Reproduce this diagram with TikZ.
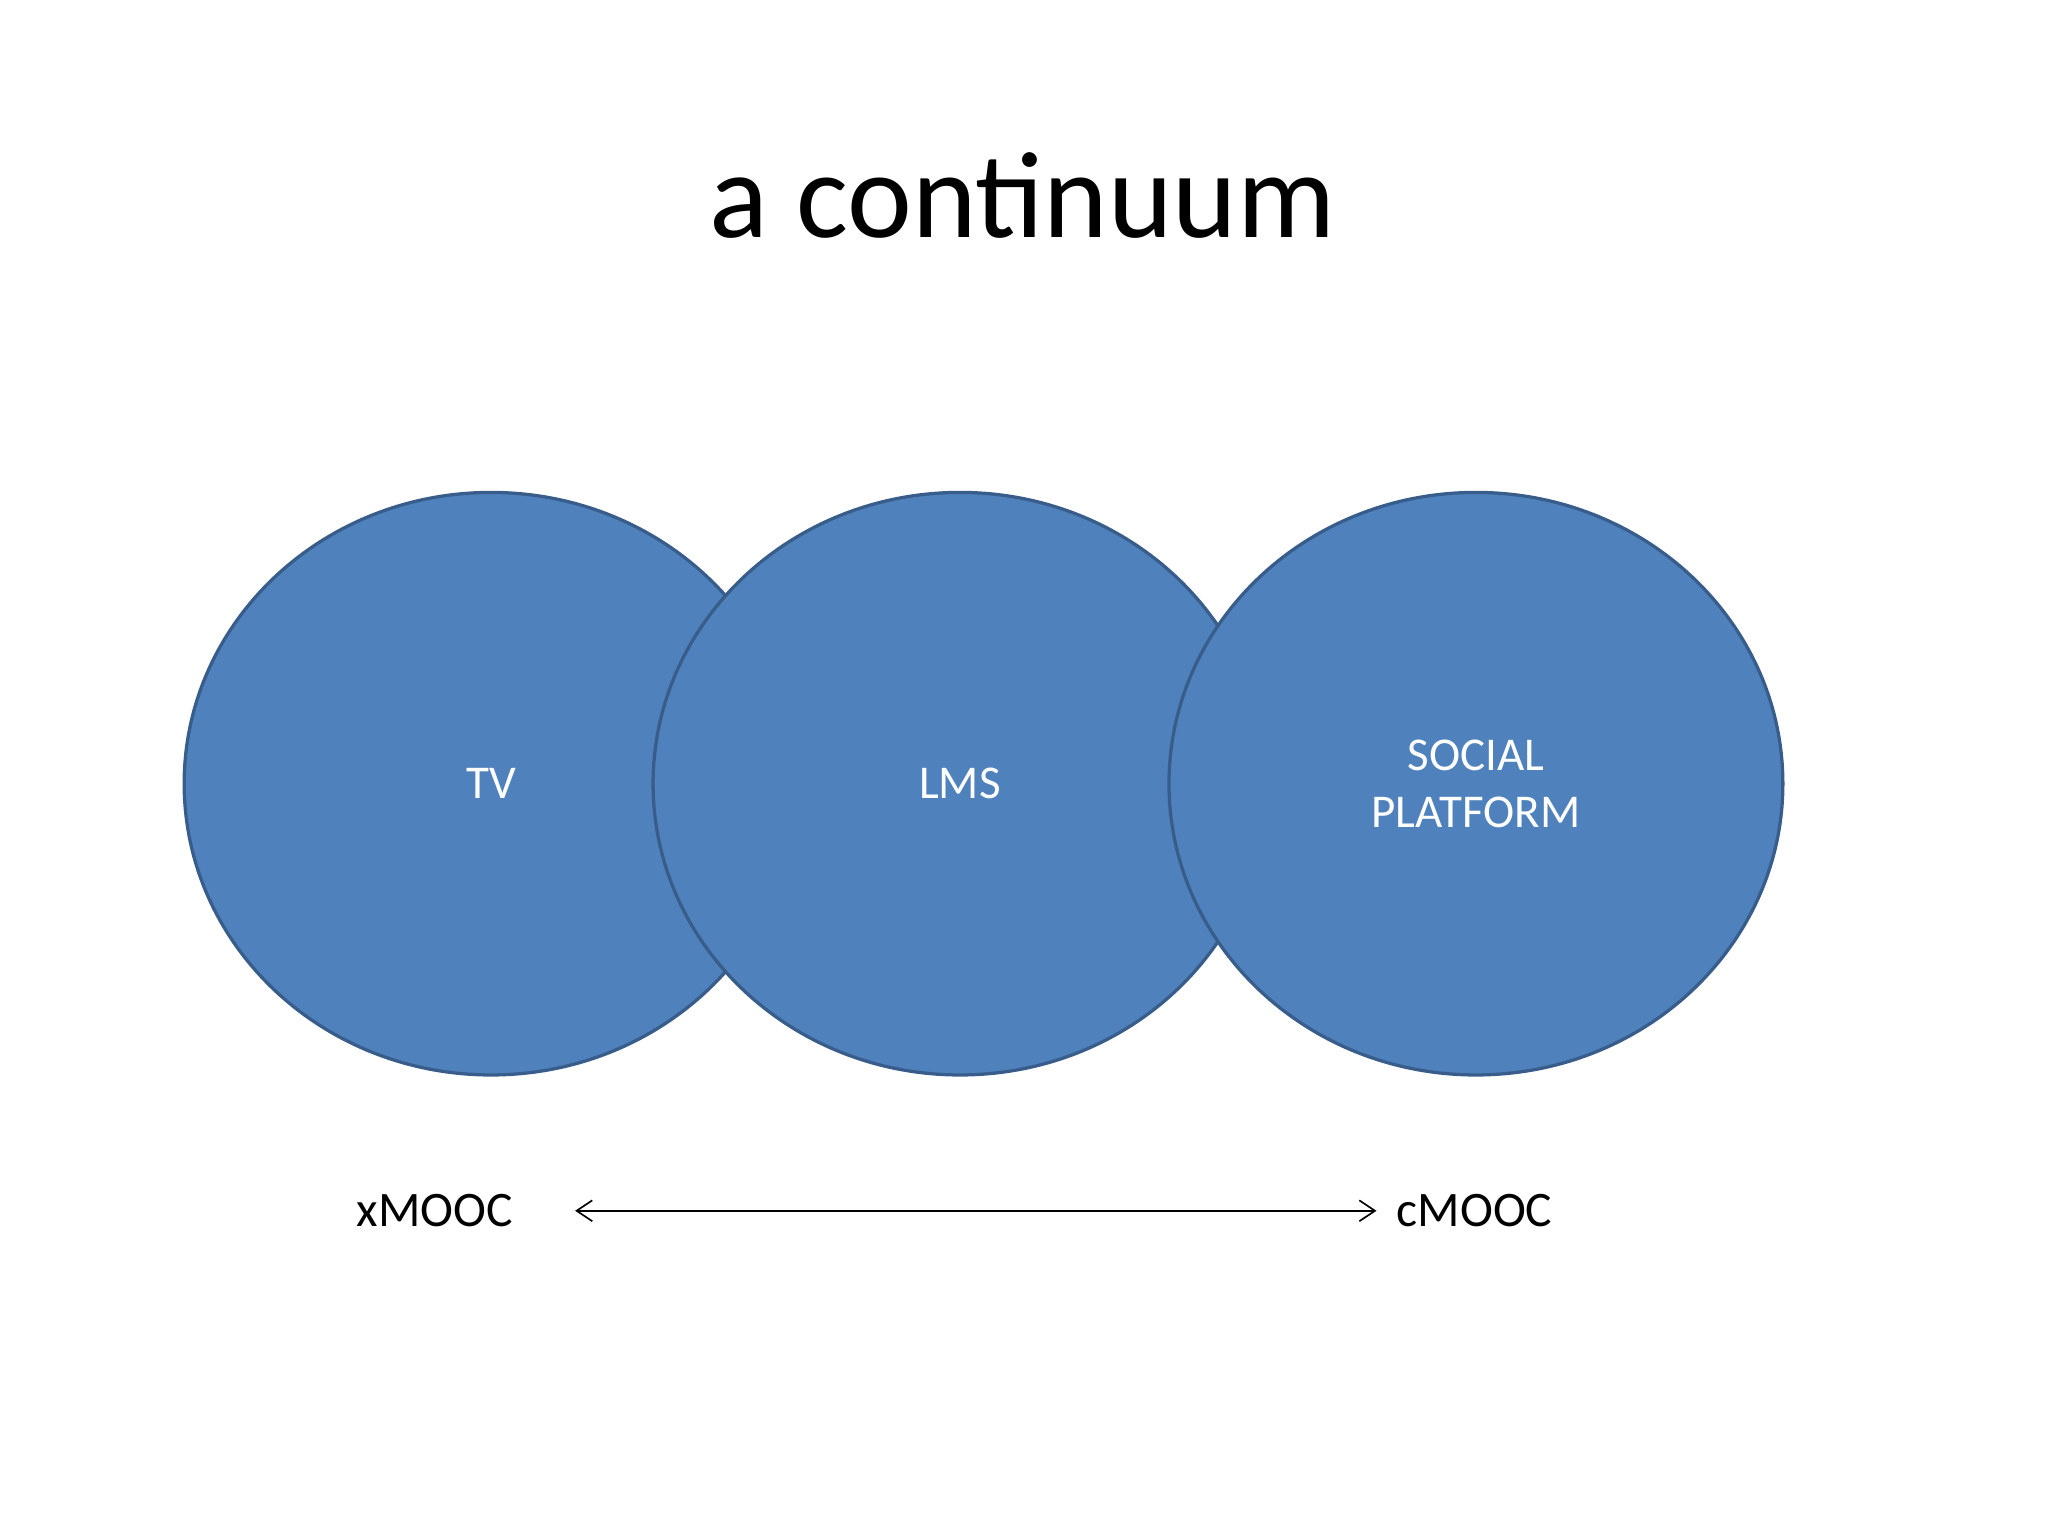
\documentclass[tikz,border=0pt]{standalone}
\usepackage{fontspec}
\setmainfont{Carlito}
\usetikzlibrary{shapes.geometric,arrows.meta}
\definecolor{blfill}{HTML}{4F81BD}
\definecolor{bldraw}{HTML}{385D8A}
\begin{document}
\begin{tikzpicture}[x=1pt,y=-1pt,
  blob/.style={ellipse,draw=bldraw,line width=2.5pt,fill=blfill,minimum width=470pt,minimum height=446pt,text=white,font=\fontsize{36}{44}\selectfont,align=center},
  lab/.style={font=\fontsize{38}{44}\selectfont}]
\useasboundingbox (0,0) rectangle (1568,1176);
\node[font=\fontsize{94}{100}\selectfont] (title) at (783,150) {a continuum};
\node[blob] (tv) at (376,600) {TV};
\node[blob] (lms) at (735,600) {LMS};
\node[blob] (soc) at (1130,600) {SOCIAL\\PLATFORM};
\node[lab] (x) at (333,927) {xMOOC};
\node[lab] (c) at (1129,927) {cMOOC};
\draw[line width=1.3pt,{Straight Barb[length=12pt,width=16pt]}-{Straight Barb[length=12pt,width=16pt]}] (x.east)+(44,0) coordinate (a) -- ([xshift=-12pt]c.west);
\end{tikzpicture}
\end{document}
